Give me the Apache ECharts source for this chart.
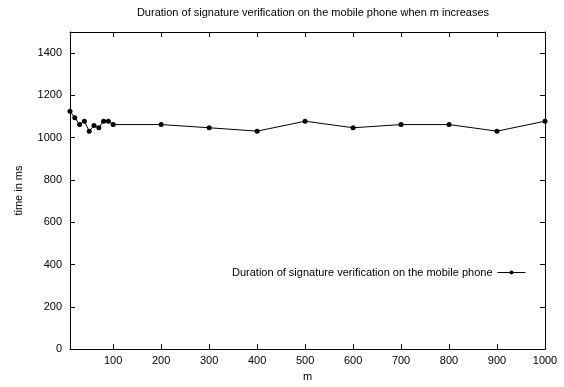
<!DOCTYPE html>
<html><head><meta charset="utf-8">
<script src="https://cdn.jsdelivr.net/npm/echarts@6/dist/echarts.min.js"></script>
<style>html,body{margin:0;padding:0;background:#fff}#c{width:564px;height:387px}</style>
</head><body><div id="c"></div>
<script>
const mValues = [10,20,30,40,50,60,70,80,90,100,200,300,400,500,600,700,800,900,1000];
const timeMs = [1125,1094,1063,1078,1031,1058,1047,1078,1078,1062,1062,1047,1031,1078,1047,1062,1062,1031,1078];
const xTicks = [100,200,300,400,500,600,700,800,900,1000];
const yTicks = [0,200,400,600,800,1000,1200,1400];
const seriesName = 'Duration of signature verification on the mobile phone';
const titleText = 'Duration of signature verification on the mobile phone when m increases';

const font = 'Liberation Sans, Arial, sans-serif';
const axisLineStyle = {show:true, onZero:false, lineStyle:{color:'#000', width:1}};
const tickStyle = {inside:true, length:5, lineStyle:{color:'#000', width:1}};
const plain = v => String(v);

const chart = echarts.init(document.getElementById('c'), null, {renderer:'canvas'});
chart.setOption({
  animation:false,
  backgroundColor:'#fff',
  textStyle:{fontFamily:font},
  title:{text:titleText, left:308, top:2, textAlign:'center',
    textStyle:{fontSize:11, fontWeight:'normal', color:'#000', fontFamily:font}},
  grid:{left:70, right:19, top:32, bottom:33},
  legend:{data:[{name:seriesName}], right:33, top:262, align:'right', itemWidth:28, itemHeight:5,
    lineStyle:{width:1, color:'#000'},
    textStyle:{fontSize:11, color:'#000', fontFamily:font}},
  xAxis:[{
    type:'value', min:10, max:1000, position:'bottom',
    name:'m', nameLocation:'middle', nameGap:18,
    nameTextStyle:{fontSize:11, color:'#000', fontFamily:font},
    axisLine:axisLineStyle,
    axisTick:Object.assign({customValues:xTicks}, tickStyle),
    axisLabel:{customValues:xTicks, formatter:plain, fontSize:11, color:'#000', margin:6, fontFamily:font},
    splitLine:{show:false}
  },{
    type:'value', min:10, max:1000, position:'top',
    axisLine:axisLineStyle,
    axisTick:Object.assign({customValues:xTicks}, tickStyle),
    axisLabel:{show:false},
    splitLine:{show:false}
  }],
  yAxis:[{
    type:'value', min:0, max:1500, position:'left',
    name:'time in ms', nameLocation:'middle', nameGap:46, nameRotate:90,
    nameTextStyle:{fontSize:11, color:'#000', fontFamily:font},
    axisLine:axisLineStyle,
    axisTick:Object.assign({customValues:yTicks}, tickStyle),
    axisLabel:{customValues:yTicks, formatter:plain, fontSize:11, color:'#000', margin:8, fontFamily:font},
    splitLine:{show:false}
  },{
    type:'value', min:0, max:1500, position:'right',
    axisLine:axisLineStyle,
    axisTick:Object.assign({customValues:yTicks}, tickStyle),
    axisLabel:{show:false},
    splitLine:{show:false}
  }],
  series:[{
    name:seriesName, type:'line', xAxisIndex:0, yAxisIndex:0,
    data:mValues.map((m,i)=>[m,timeMs[i]]),
    symbol:'circle', symbolSize:5, showSymbol:true,
    lineStyle:{color:'#000', width:1},
    itemStyle:{color:'#000'},
    clip:false
  }]
});
</script></body></html>
